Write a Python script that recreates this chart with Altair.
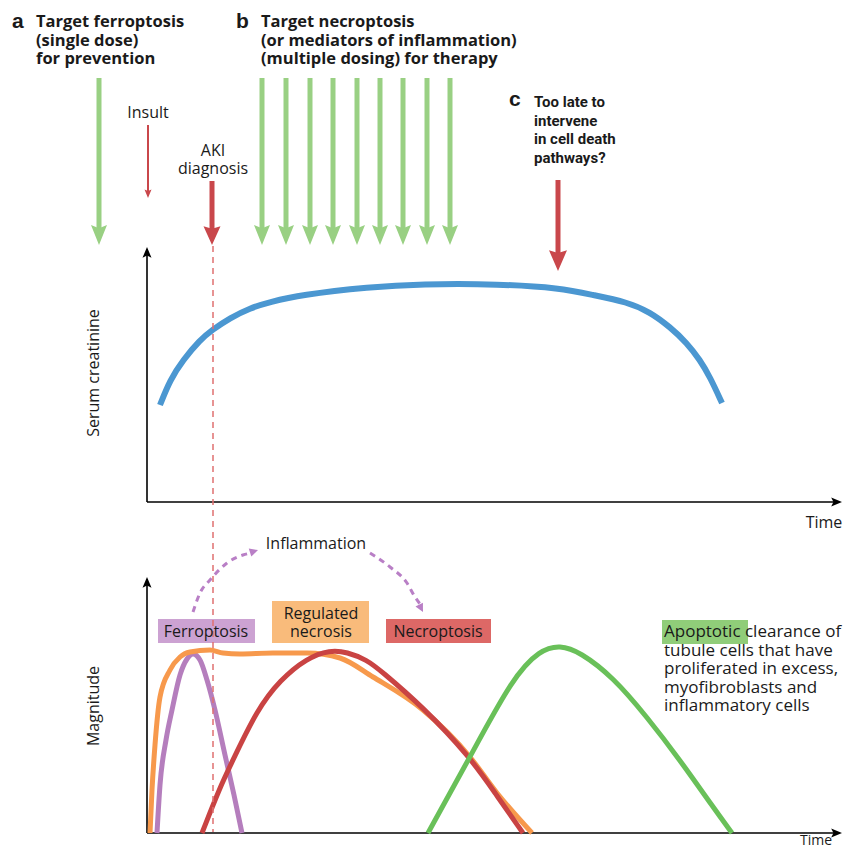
import altair as alt
import pandas as pd

# ---------------- data (figure units, origin at top-left) ----------------
# Serum creatinine curve (top panel)
creat_x = [160, 170, 183, 200, 212, 230, 250, 270, 300, 370, 420, 500, 560, 593, 627, 650, 670, 687, 700, 710, 722]
creat_y = [405, 380, 360, 340, 330, 318, 308, 302, 295, 287, 284, 284, 288, 295, 302, 312, 327, 343, 360, 377, 403]

# Magnitude curves (bottom panel)
ferro_x = [157, 160, 166, 172, 180, 187, 193, 200, 207, 215, 225, 234, 242]
ferro_y = [833, 785, 740, 710, 675, 659, 654, 660, 680, 710, 755, 795, 833]

regnec_x = [150, 152, 155, 160, 170, 180, 190, 210, 223, 240, 273, 307, 340, 373, 423, 470, 497, 532]
regnec_y = [833, 790, 745, 697, 670, 657, 652, 650, 653, 654, 653, 653, 658, 677, 710, 757, 793, 833]

necro_x = [202, 220, 233, 257, 280, 307, 330, 347, 367, 380, 423, 470, 495, 523]
necro_y = [833, 787, 760, 710, 680, 658, 650, 652, 660, 670, 707, 757, 793, 833]

apo_x = [428, 470, 513, 540, 560, 580, 613, 647, 680, 713, 732]
apo_y = [833, 757, 677, 650, 645, 652, 677, 717, 760, 807, 833]

# Inflammation dashed arcs
infl_left_x = [193, 200, 210, 227, 243, 251]
infl_left_y = [612, 593, 580, 563, 555, 553]
infl_right_x = [370, 390, 407, 415, 420]
infl_right_y = [553, 567, 583, 597, 604]
infl_head_x = [258, 423]
infl_head_y = [550, 612]
infl_head_angle = [72, 153]

# Dosing / event arrows: x, shaft top, tip
green_arrow_x = [99, 262, 286, 310, 333, 357, 380, 403, 427, 450]
green_arrow_top = [78] * 10
green_arrow_tip = [245] * 10

insult_arrow = dict(x=[148], top=[125], tip=[198])
aki_arrow = dict(x=[212], top=[181], tip=[245])
late_arrow = dict(x=[558], top=[180], tip=[271])

# Axes (two panels)
yaxis_x = [147, 147]
yaxis_bottom = [502, 833]
yaxis_top = [249, 579]
xaxis_y = [502, 833]
xaxis_left = [147, 147]
xaxis_right = [842, 842]

# Label boxes
box_x = [158, 272, 386, 662]
box_x2 = [255, 369, 491, 748]
box_y = [619, 601, 619, 620]
box_y2 = [643, 643, 643, 644]
box_color = ["#cca2d2", "#f9bb7b", "#dd6866", "#90cd79"]

# ---------------- scales ----------------
xs = alt.Scale(domain=[8, 843], nice=False, zero=False)
ys = alt.Scale(domain=[8, 850], nice=False, zero=False, reverse=True)
X = lambda f="x": alt.X(f"{f}:Q", scale=xs, axis=None)
Y = lambda f="y": alt.Y(f"{f}:Q", scale=ys, axis=None)

layers = []


def line(xv, yv, color, width, dash=None, interp="monotone"):
    df = pd.DataFrame({"x": xv, "y": yv, "i": list(range(len(xv)))})
    kw = dict(color=color, strokeWidth=width, interpolate=interp, strokeCap="butt")
    if dash:
        kw["strokeDash"] = dash
    return alt.Chart(df).mark_line(**kw).encode(x=X(), y=Y(), order="i:Q")


def vshaft(xv, top, bottom, color, width, dash=None):
    df = pd.DataFrame({"x": xv, "y": top, "y2": bottom})
    kw = dict(color=color, strokeWidth=width)
    if dash:
        kw["strokeDash"] = dash
    return alt.Chart(df).mark_rule(**kw).encode(x=X(), y=Y(), y2=alt.Y2("y2"))


def hshaft(yv, left, right, color, width):
    df = pd.DataFrame({"y": yv, "x": left, "x2": right})
    return alt.Chart(df).mark_rule(color=color, strokeWidth=width).encode(x=X(), x2=alt.X2("x2"), y=Y())


def head(xv, yv, path, size, color, angle=None):
    d = {"x": xv, "y": yv}
    if angle is not None:
        d["a"] = angle
    df = pd.DataFrame(d)
    ch = alt.Chart(df).mark_point(shape=path, size=size, filled=True, color=color, opacity=1, strokeWidth=0)
    enc = dict(x=X(), y=Y())
    if angle is not None:
        enc["angle"] = alt.Angle("a:Q", scale=None)
    return ch.encode(**enc)


DOWN = "M0,0L-1,-2.5L0,-2.1L1,-2.5Z"
UP_AX = "M0,0L-1,2.4L0,1.9L1,2.4Z"
RIGHT_AX = "M0,0L-2.4,-1L-1.9,0L-2.4,1Z"
UP_SMALL = "M0,0L-1,2L1,2Z"

GREEN = "#99d083"
RED = "#c9474b"

# boxes
boxes = pd.DataFrame({"x": box_x, "x2": box_x2, "y": box_y, "y2": box_y2, "c": box_color})
layers.append(alt.Chart(boxes).mark_rect().encode(
    x=X(), x2=alt.X2("x2"), y=Y(), y2=alt.Y2("y2"), color=alt.Color("c:N", scale=None)))

# axes
layers.append(vshaft(yaxis_x, yaxis_top, yaxis_bottom, "#000000", 1.6))
layers.append(hshaft(xaxis_y, xaxis_left, [r - 4 for r in xaxis_right], "#000000", 1.6))
layers.append(head(yaxis_x, [t - 2 for t in yaxis_top], UP_AX, 81, "#000000"))
layers.append(head(xaxis_right, xaxis_y, RIGHT_AX, 81, "#000000"))

# curves
layers.append(line(creat_x, creat_y, "#4b97d1", 6, interp="basis"))
layers.append(line(ferro_x, ferro_y, "#b57ebd", 5))
layers.append(line(regnec_x, regnec_y, "#f7994c", 5))
layers.append(line(necro_x, necro_y, "#c94343", 5, interp="basis"))
layers.append(line(apo_x, apo_y, "#69c059", 5, interp="basis"))

# inflammation arcs
layers.append(line(infl_left_x, infl_left_y, "#b97fc6", 3, dash=[6, 5]))
layers.append(line(infl_right_x, infl_right_y, "#b97fc6", 3, dash=[6, 5]))
layers.append(head(infl_head_x, infl_head_y, UP_SMALL, 70, "#b97fc6", angle=infl_head_angle))

# dashed AKI line
layers.append(vshaft([213], [246], [832], "#e07070", 1.5, dash=[6, 5]))

# green dosing arrows
layers.append(vshaft(green_arrow_x, green_arrow_top, [t - 12 for t in green_arrow_tip], GREEN, 5))
layers.append(head(green_arrow_x, green_arrow_tip, DOWN, 256, GREEN))

# red arrows
layers.append(vshaft(insult_arrow["x"], insult_arrow["top"], [t - 6 for t in insult_arrow["tip"]], RED, 2))
layers.append(head(insult_arrow["x"], insult_arrow["tip"], "M0,0L-1,-2.4L0,-2.0L1,-2.4Z", 49, RED))
layers.append(vshaft(aki_arrow["x"], aki_arrow["top"], [t - 12 for t in aki_arrow["tip"]], RED, 5))
layers.append(head(aki_arrow["x"], aki_arrow["tip"], "M0,0L-1,-2.2L0,-1.9L1,-2.2Z", 289, RED))
layers.append(vshaft(late_arrow["x"], late_arrow["top"], [t - 12 for t in late_arrow["tip"]], RED, 5))
layers.append(head(late_arrow["x"], late_arrow["tip"], "M0,0L-1,-2.3L0,-2.0L1,-2.3Z", 324, RED))

# ---------------- texts ----------------
FONT = "Open Sans"


def text(items, size, weight="normal", align="left", angle=0, lh=18, font=FONT):
    df = pd.DataFrame(items, columns=["x", "y", "t"])
    return alt.Chart(df).mark_text(
        align=align, baseline="alphabetic", font=font, fontSize=size, fontWeight=weight,
        lineBreak="\n", lineHeight=lh, angle=angle, color="#1a1a1a"
    ).encode(x=X(), y=Y(), text="t:N")


panel_letters = [(12, 28, "a"), (236, 28, "b"), (509, 106, "c")]
titles_ab = [
    (36, 27, "Target ferroptosis\n(single dose)\nfor prevention"),
    (261, 27, "Target necroptosis\n(or mediators of inflammation)\n(multiple dosing) for therapy"),
]
title_c = [(534, 107, "Too late to\nintervene\nin cell death\npathways?")]
center_labels = [
    (148, 118, "Insult"),
    (213, 156, "AKI\ndiagnosis"),
    (316, 549, "Inflammation"),
    (206, 637, "Ferroptosis"),
    (321, 619, "Regulated\nnecrosis"),
    (438, 637, "Necroptosis"),
    (824, 528, "Time"),
]
bottom_time = [(816, 845, "Time")]
left_labels = [(664, 637, "Apoptotic clearance of\ntubule cells that have\nproliferated in excess,\nmyofibroblasts and\ninflammatory cells")]
axis_titles = [(99, 373, "Serum creatinine"), (99, 706, "Magnitude")]

layers.append(text(panel_letters, 21, weight="bold", font="Liberation Sans"))
layers.append(text(titles_ab, 16.5, weight="bold", lh=18.5))
layers.append(text(title_c, 15, weight="bold", lh=18.5, font="Roboto"))
layers.append(text(center_labels, 16, align="center", lh=17.5))
layers.append(text(bottom_time, 14, align="center"))
layers.append(text(left_labels, 17, lh=18.6))
layers.append(alt.Chart(pd.DataFrame(axis_titles, columns=["x", "y", "t"])).mark_text(
    align="center", baseline="alphabetic", font=FONT, fontSize=16, angle=270, color="#1a1a1a"
).encode(x=X(), y=Y(), text="t:N"))

chart = alt.layer(*layers).properties(
    width=835, height=842, padding=0, autosize=alt.AutoSizeParams(type="none")
).configure_view(strokeWidth=0)

chart.save("out.html", embed_options={"renderer": "svg", "actions": False})
